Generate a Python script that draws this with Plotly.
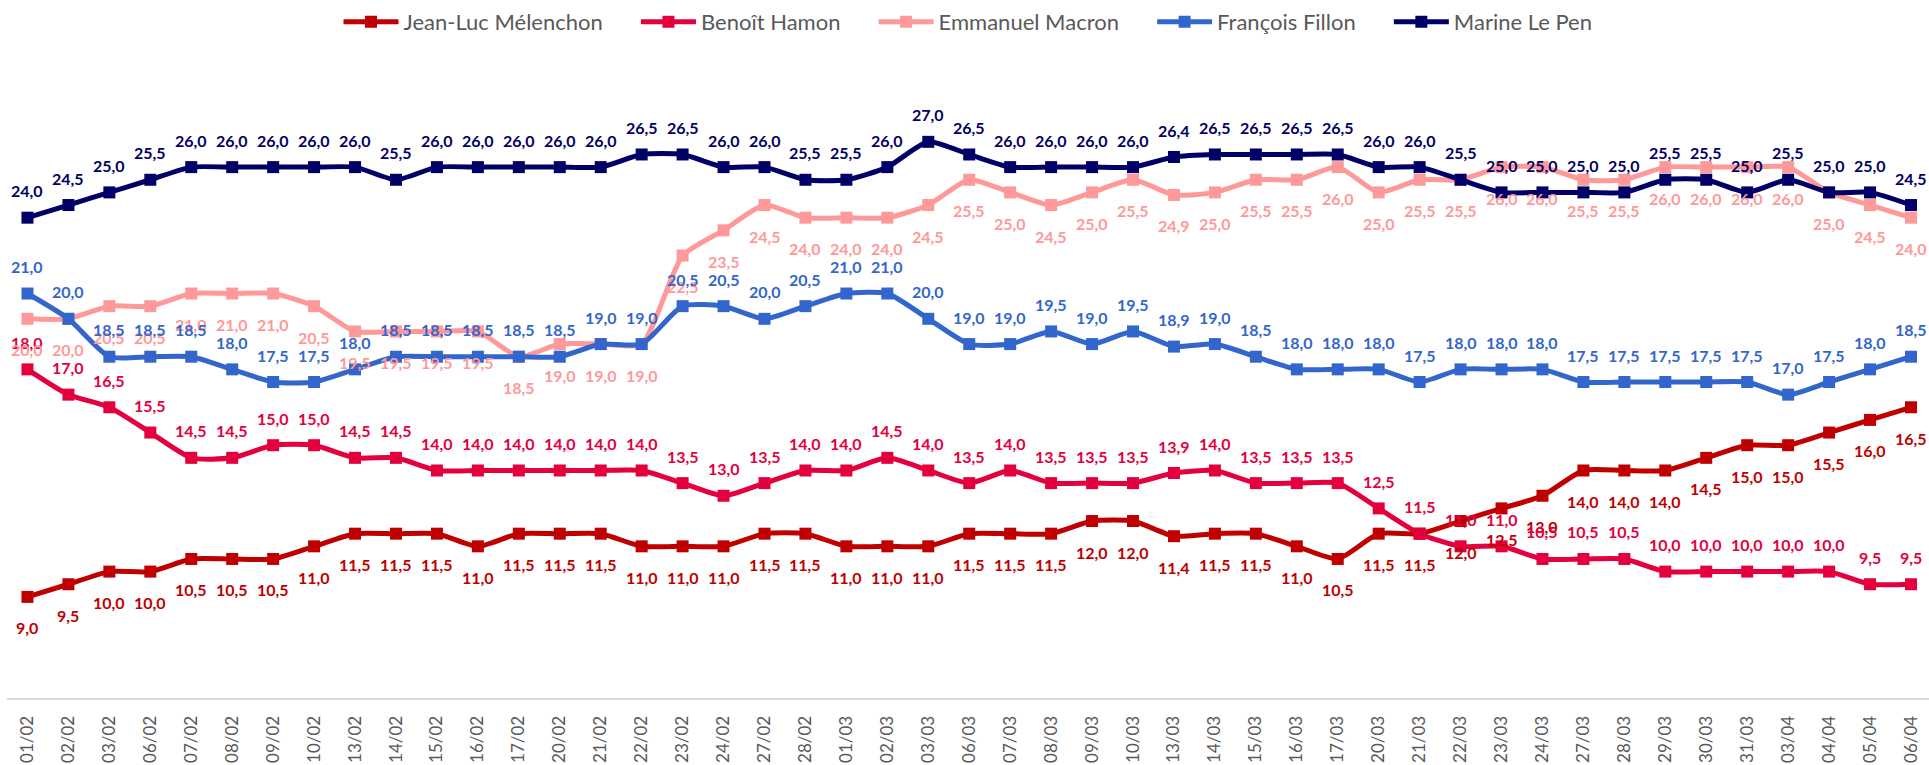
import plotly.graph_objects as go

dates = ["01/02","02/02","03/02","06/02","07/02","08/02","09/02","10/02","13/02","14/02",
         "15/02","16/02","17/02","20/02","21/02","22/02","23/02","24/02","27/02","28/02",
         "01/03","02/03","03/03","06/03","07/03","08/03","09/03","10/03","13/03","14/03",
         "15/03","16/03","17/03","20/03","21/03","22/03","23/03","24/03","27/03","28/03",
         "29/03","30/03","31/03","03/04","04/04","05/04","06/04"]

melenchon = [9.0, 9.5, 10.0, 10.0, 10.5, 10.5, 10.5, 11.0, 11.5, 11.5,
             11.5, 11.0, 11.5, 11.5, 11.5, 11.0, 11.0, 11.0, 11.5, 11.5,
             11.0, 11.0, 11.0, 11.5, 11.5, 11.5, 12.0, 12.0, 11.4, 11.5,
             11.5, 11.0, 10.5, 11.5, 11.5, 12.0, 12.5, 13.0, 14.0, 14.0,
             14.0, 14.5, 15.0, 15.0, 15.5, 16.0, 16.5]

hamon = [18.0, 17.0, 16.5, 15.5, 14.5, 14.5, 15.0, 15.0, 14.5, 14.5,
         14.0, 14.0, 14.0, 14.0, 14.0, 14.0, 13.5, 13.0, 13.5, 14.0,
         14.0, 14.5, 14.0, 13.5, 14.0, 13.5, 13.5, 13.5, 13.9, 14.0,
         13.5, 13.5, 13.5, 12.5, 11.5, 11.0, 11.0, 10.5, 10.5, 10.5,
         10.0, 10.0, 10.0, 10.0, 10.0, 9.5, 9.5]

macron = [20.0, 20.0, 20.5, 20.5, 21.0, 21.0, 21.0, 20.5, 19.5, 19.5,
          19.5, 19.5, 18.5, 19.0, 19.0, 19.0, 22.5, 23.5, 24.5, 24.0,
          24.0, 24.0, 24.5, 25.5, 25.0, 24.5, 25.0, 25.5, 24.9, 25.0,
          25.5, 25.5, 26.0, 25.0, 25.5, 25.5, 26.0, 26.0, 25.5, 25.5,
          26.0, 26.0, 26.0, 26.0, 25.0, 24.5, 24.0]

fillon = [21.0, 20.0, 18.5, 18.5, 18.5, 18.0, 17.5, 17.5, 18.0, 18.5,
          18.5, 18.5, 18.5, 18.5, 19.0, 19.0, 20.5, 20.5, 20.0, 20.5,
          21.0, 21.0, 20.0, 19.0, 19.0, 19.5, 19.0, 19.5, 18.9, 19.0,
          18.5, 18.0, 18.0, 18.0, 17.5, 18.0, 18.0, 18.0, 17.5, 17.5,
          17.5, 17.5, 17.5, 17.0, 17.5, 18.0, 18.5]

lepen = [24.0, 24.5, 25.0, 25.5, 26.0, 26.0, 26.0, 26.0, 26.0, 25.5,
         26.0, 26.0, 26.0, 26.0, 26.0, 26.5, 26.5, 26.0, 26.0, 25.5,
         25.5, 26.0, 27.0, 26.5, 26.0, 26.0, 26.0, 26.0, 26.4, 26.5,
         26.5, 26.5, 26.5, 26.0, 26.0, 25.5, 25.0, 25.0, 25.0, 25.0,
         25.5, 25.5, 25.0, 25.5, 25.0, 25.0, 24.5]

names = ["Jean-Luc Mélenchon", "Benoît Hamon", "Emmanuel Macron", "François Fillon", "Marine Le Pen"]
values = [melenchon, hamon, macron, fillon, lepen]
colors = ["#C00000", "#E3003D", "#FF9999", "#3366CC", "#000066"]
label_pos = ["below", "above", "below", "above", "above"]

FONT = "Lato"
PAD = "\u00a0" * 5
fig = go.Figure()
annotations = []
for i, (name, vals, color, pos) in enumerate(zip(names, values, colors, label_pos)):
    legend_name = name + (PAD if i < len(names) - 1 else "")
    fig.add_trace(go.Scatter(
        x=dates, y=vals, name=legend_name, mode="lines+markers",
        line=dict(color=color, width=5, shape="spline", smoothing=0.6),
        marker=dict(symbol="square", size=12, color=color),
    ))
    for d, v in zip(dates, vals):
        annotations.append(dict(
            x=d, y=v, xref="x", yref="y", showarrow=False,
            text=f"{v:.1f}".replace(".", ","),
            yshift=27 if pos == "above" else -31,
            font=dict(family=FONT, size=16, color=color, weight="bold"),
        ))

fig.update_layout(
    width=1929, height=765,
    paper_bgcolor="white", plot_bgcolor="white",
    margin=dict(l=7, r=0, t=66, b=67, autoexpand=False),
    showlegend=True,
    legend=dict(orientation="h", x=0.5, xanchor="center", y=1.0696, yref="paper",
                yanchor="middle", font=dict(family=FONT, size=22, color="#595959"),
                tracegroupgap=0, itemwidth=55),
    annotations=annotations,
    font=dict(family=FONT),
)
fig.update_xaxes(
    type="category", range=[-0.5, 46.44], automargin=False,
    showgrid=False, zeroline=False,
    showline=True, linecolor="#D9D9D9", linewidth=2,
    tickangle=-90, tickfont=dict(family=FONT, size=17, color="#595959"),
    ticks="", ticklabelstandoff=9,
)
fig.update_yaxes(range=[5, 30], visible=False, showgrid=False, zeroline=False, automargin=False)

fig.write_html(
    "out.html",
    config={"displayModeBar": False},
    post_script="document.body.style.margin='0';document.body.style.overflow='hidden';",
)
